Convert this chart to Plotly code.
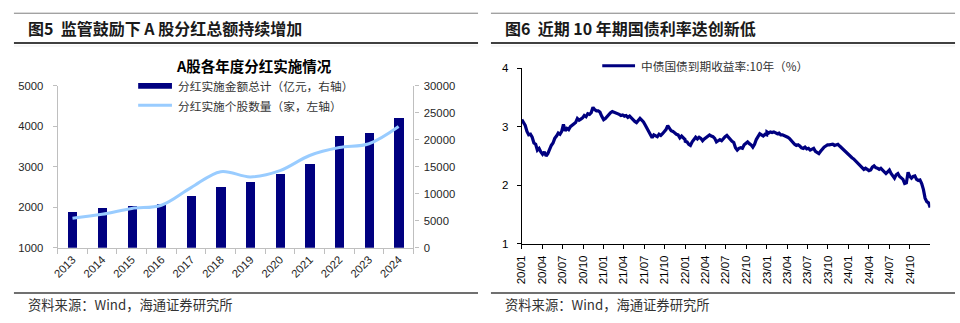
import pandas as pd
import plotly.graph_objects as go

W, H = 960, 323

# ---- Figure 5: A-share dividends by fiscal year ----
years = ["2013", "2014", "2015", "2016", "2017", "2018",
         "2019", "2020", "2021", "2022", "2023", "2024"]
# total cash dividends, 100m CNY (bars, right axis)
dividend_amount = [6620, 7460, 7760, 8180, 9610, 11340,
                   12110, 13670, 15560, 20700, 21360, 24100]
# number of companies paying dividends (line, left axis)
dividend_firms = [1730, 1825, 1970, 2050, 2485, 2880,
                  2750, 2905, 3280, 3475, 3570, 3995]

# ---- Figure 6: China 10Y government bond yield (%), roughly weekly ----
yield_2020 = [3.12, 3.08, 3.02, 2.92, 2.86, 2.87, 2.82, 2.72, 2.70, 2.60, 2.63, 2.57,
              2.53, 2.57, 2.50, 2.54, 2.62, 2.68, 2.72, 2.80, 2.84, 2.89, 2.87, 2.92,
              3.04, 2.93, 2.97, 2.95, 3.00, 3.02, 3.04, 3.07, 3.14, 3.11, 3.13, 3.15,
              3.19, 3.17, 3.22, 3.21, 3.24, 3.33, 3.29, 3.27, 3.27, 3.25, 3.18, 3.14]
yield_2021 = [3.12, 3.14, 3.18, 3.20, 3.24, 3.26, 3.25, 3.24, 3.23, 3.21, 3.19, 3.20,
              3.18, 3.19, 3.16, 3.18, 3.15, 3.11, 3.09, 3.07, 3.11, 3.14, 3.11, 3.08,
              3.03, 2.97, 2.92, 2.86, 2.81, 2.86, 2.85, 2.83, 2.87, 2.85, 2.88, 2.91,
              2.95, 3.02, 2.98, 2.93, 2.92, 2.89, 2.87, 2.86, 2.81, 2.84, 2.81, 2.78]
yield_2022 = [2.75, 2.74, 2.70, 2.68, 2.74, 2.78, 2.82, 2.79, 2.82, 2.80, 2.76, 2.79,
              2.81, 2.84, 2.86, 2.84, 2.83, 2.80, 2.74, 2.76, 2.78, 2.76, 2.80, 2.83,
              2.85, 2.81, 2.78, 2.75, 2.73, 2.64, 2.60, 2.63, 2.64, 2.63, 2.69, 2.72,
              2.74, 2.71, 2.69, 2.65, 2.70, 2.78, 2.83, 2.88, 2.86, 2.84, 2.87, 2.86]
yield_2023 = [2.91, 2.89, 2.91, 2.90, 2.91, 2.89, 2.88, 2.89, 2.86, 2.86, 2.85, 2.84,
              2.82, 2.80, 2.76, 2.73, 2.70, 2.68, 2.69, 2.67, 2.64, 2.63, 2.65, 2.62,
              2.63, 2.60, 2.62, 2.63, 2.58, 2.56, 2.54, 2.58, 2.62, 2.65, 2.67, 2.69,
              2.69, 2.70, 2.70, 2.68, 2.69, 2.70, 2.67, 2.64, 2.62, 2.59, 2.56, 2.53]
yield_2024 = [2.51, 2.49, 2.47, 2.45, 2.42, 2.40, 2.37, 2.33, 2.30, 2.27, 2.29, 2.27,
              2.25, 2.26, 2.31, 2.33, 2.30, 2.29, 2.27, 2.29, 2.26, 2.23, 2.20, 2.23,
              2.26, 2.20, 2.15, 2.12, 2.18, 2.20, 2.15, 2.13, 2.10, 2.03, 2.04, 2.22,
              2.15, 2.12, 2.15, 2.16, 2.10, 2.08, 2.09, 2.03, 1.93, 1.78, 1.72, 1.70, 1.62]

yield_dates, yield_values = [], []
for yr, vals in [(2020, yield_2020), (2021, yield_2021), (2022, yield_2022),
                 (2023, yield_2023), (2024, yield_2024)]:
    yield_dates += list(pd.date_range(f"{yr}-01-01", f"{yr}-12-31", periods=len(vals)))
    yield_values += vals


def px_x(x):
    return x / W


def px_y(y):
    return 1 - y / H


NUM = "Liberation Sans, Arial, Noto Sans CJK SC"
CJK = "Noto Sans CJK SC, Liberation Sans"
NAVY = "#000080"
SKY = "#99CCFF"
GREY_AX = "#BFBFBF"

fig = go.Figure()

fig.add_trace(go.Bar(
    x=years, y=dividend_amount, xaxis="x", yaxis="y",
    marker=dict(color=NAVY, line=dict(width=0)), width=0.31,
    showlegend=False, name="分红实施金额总计（亿元，右轴）"))
fig.add_trace(go.Scatter(
    x=years, y=dividend_firms, xaxis="x", yaxis="y2", mode="lines",
    line=dict(color=SKY, width=3, shape="spline", smoothing=1.0),
    showlegend=False, name="分红实施个股数量（家，左轴）"))
fig.add_trace(go.Scatter(
    x=yield_dates, y=yield_values, xaxis="x2", yaxis="y3", mode="lines",
    line=dict(color=NAVY, width=3.2),
    showlegend=False, name="中债国债到期收益率:10年（%）"))

tickfont_l = dict(family=NUM, size=11.3, color="#262626")
tickfont_r = dict(family=NUM, size=11.5, color="#000000")

fig.update_layout(
    width=W, height=H,
    margin=dict(l=0, r=0, t=0, b=0),
    paper_bgcolor="white", plot_bgcolor="white",
    showlegend=False,
    bargap=0.0,
    xaxis=dict(
        domain=[px_x(52), px_x(410)], anchor="y", type="category",
        showline=True, linecolor=GREY_AX, linewidth=1.2,
        ticks="outside", tickson="boundaries", ticklen=5, tickcolor=GREY_AX,
        tickangle=-45, tickfont=tickfont_l, showgrid=False, zeroline=False),
    yaxis=dict(
        domain=[px_y(251), px_y(83)], anchor="x", side="right",
        range=[0, 30000], dtick=5000, tickformat="d",
        showline=True, linecolor=GREY_AX, linewidth=1.2,
        ticks="outside", ticklen=4, tickcolor=GREY_AX, ticklabelstandoff=3,
        tickfont=tickfont_l, showgrid=False, zeroline=False),
    yaxis2=dict(
        overlaying="y", anchor="x", side="left",
        range=[1000, 5000], dtick=1000, tickformat="d",
        showline=True, linecolor=GREY_AX, linewidth=1.2,
        ticks="outside", ticklen=4, tickcolor=GREY_AX, ticklabelstandoff=7,
        tickfont=tickfont_l, showgrid=False, zeroline=False),
    xaxis2=dict(
        domain=[px_x(519), px_x(930)], anchor="y3", type="date",
        range=["2020-01-01", "2024-12-31"],
        tick0="2020-01-01", dtick="M3", tickformat="%y/%m",
        showline=True, linecolor="#000000", linewidth=1.2,
        ticks="outside", ticklen=4, tickcolor="#000000", ticklabelstandoff=2,
        tickangle=-90, tickfont=tickfont_r, showgrid=False, zeroline=False),
    yaxis3=dict(
        domain=[px_y(247), px_y(64.5)], anchor="x2",
        range=[1, 4], dtick=1,
        showline=True, linecolor="#000000", linewidth=1.2,
        ticks="outside", ticklen=4, tickcolor="#000000", ticklabelstandoff=6,
        tickfont=tickfont_r, showgrid=False, zeroline=False),
)

shapes = []
annotations = []


def hline(x0, x1, y, color, width):
    shapes.append(dict(type="line", xref="paper", yref="paper",
                       x0=px_x(x0), x1=px_x(x1), y0=px_y(y), y1=px_y(y),
                       line=dict(color=color, width=width)))


def text(x, y, s, size, family=CJK, color="#000000", bold=False, xanchor="left"):
    annotations.append(dict(
        xref="paper", yref="paper", x=px_x(x), y=px_y(y),
        xanchor=xanchor, yanchor="middle", showarrow=False, text=s,
        font=dict(family=family, size=size, color=color,
                  weight="bold" if bold else "normal")))


# panel frames: header rules and footer rule
for x0, x1 in [(8, 475), (488, 955)]:
    hline(x0, x1, 7.5, "#7F7F7F", 1)
    hline(x0, x1, 38.5, "#404040", 2)
    hline(x0, x1, 41.5, "#EDEDED", 1)
    hline(x0, x1, 298, "#404040", 1.5)

text(20, 23, "图5  监管鼓励下 A 股分红总额持续增加", 16, bold=True, color="#1A1A1A")
text(500, 23, "图6  近期 10 年期国债利率迭创新低", 16, bold=True, color="#1A1A1A")
text(20, 310, "资料来源：Wind，海通证券研究所", 13.3, color="#333333")
text(500, 310, "资料来源：Wind，海通证券研究所", 13.3, color="#333333")

# left chart title and legend
text(250, 62, "A股各年度分红实施情况", 14.5, bold=True, xanchor="center")
shapes.append(dict(type="rect", xref="paper", yref="paper",
                   x0=px_x(133), x1=px_x(167), y0=px_y(86), y1=px_y(80),
                   fillcolor=NAVY, line=dict(width=0)))
text(171, 83, "分红实施金额总计（亿元，右轴）", 11.7, color="#333333")
hline(133, 167, 103, SKY, 3)
text(171, 103, "分红实施个股数量（家，左轴）", 11.7, color="#333333")

# right chart legend
hline(600, 633, 62, NAVY, 3)
text(637, 62, "中债国债到期收益率:10年（%）", 11.7, color="#333333")

fig.update_layout(shapes=shapes, annotations=annotations)

fig.write_html("out.html")
